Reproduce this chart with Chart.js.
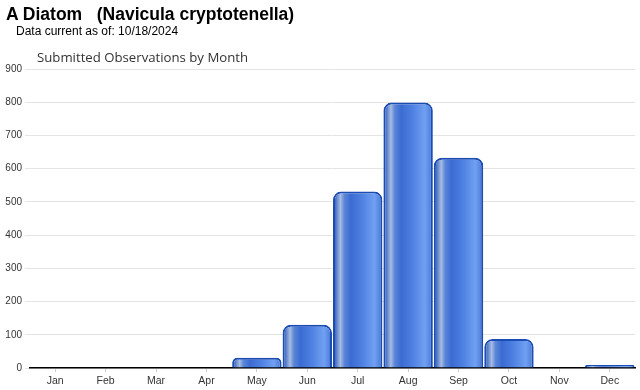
<!DOCTYPE html>
<html>
<head>
<meta charset="utf-8">
<script src="https://cdn.jsdelivr.net/npm/chart.js@4"></script>
<style>
  html,body{margin:0;padding:0;background:#fff;}
  #wrap{position:relative;width:640px;height:390px;overflow:hidden;}
  canvas{position:absolute;left:0;top:0;}
  .t1{position:absolute;left:6px;top:4px;font:bold 17.5px "Liberation Sans",Arial,sans-serif;color:#000;white-space:pre;}
  .t2{position:absolute;left:16px;top:24px;font:12px "Liberation Sans",Arial,sans-serif;color:#000;white-space:pre;}
  .t3{position:absolute;left:37px;top:48px;font:13.2px "Open Sans",sans-serif;color:#333;white-space:pre;}
</style>
</head>
<body>
<div id="wrap">
  <canvas id="c" width="640" height="390"></canvas>
  <div class="t1">A Diatom   (Navicula cryptotenella)</div>
  <div class="t2">Data current as of: 10/18/2024</div>
  <div class="t3">Submitted Observations by Month</div>
</div>
<script>
const months = ["Jan","Feb","Mar","Apr","May","Jun","Jul","Aug","Sep","Oct","Nov","Dec"];
const observations = [0,0,0,0,31,130,531,799,633,87,0,9];
const yTicks = [0,100,200,300,400,500,600,700,800,900];

function barGradient(ctx){
  const chart = ctx.chart;
  if (!chart.chartArea || ctx.type !== 'data') return '#3f6fd4';
  const xs = chart.scales.x;
  const cx = xs.getPixelForValue(ctx.dataIndex);
  const w = (xs.right - xs.left) / months.length * 0.98;
  const g = chart.ctx.createLinearGradient(cx - w/2, 0, cx + w/2, 0);
  g.addColorStop(0.00, '#1d4cb0');
  g.addColorStop(0.06, '#4f78c8');
  g.addColorStop(0.15, '#a8bce2');
  g.addColorStop(0.23, '#5a86d8');
  g.addColorStop(0.36, '#3b6bd2');
  g.addColorStop(0.60, '#4f82e2');
  g.addColorStop(0.84, '#71a0f2');
  g.addColorStop(0.94, '#5586e0');
  g.addColorStop(1.00, '#1d4cb0');
  return g;
}

new Chart(document.getElementById('c'), {
  type: 'bar',
  data: {
    labels: months,
    datasets: [{
      data: observations,
      backgroundColor: barGradient,
      borderColor: '#1a4cb4',
      borderWidth: ctx => (ctx.raw ? 2 : 0),
      borderRadius: {topLeft: 8, topRight: 8, bottomLeft: 0, bottomRight: 0},
      borderSkipped: 'bottom',
      categoryPercentage: 1.0,
      barPercentage: 0.98
    }]
  },
  options: {
    responsive: false,
    animation: false,
    devicePixelRatio: 1,
    layout: { padding: { top: 69, right: 5, left: 0, bottom: 0 } },
    plugins: { legend: { display: false }, tooltip: { enabled: false }, title: { display: false } },
    scales: {
      x: {
        grid: { display: true, offset: false, drawOnChartArea: false, drawTicks: true, tickLength: 4, color: '#d0d0d0' },
        border: { display: true, color: '#000', width: 1.5 },
        ticks: { color: '#333', font: { family: 'Liberation Sans', size: 10.5 }, padding: 3 },
        afterFit: s => { s.height = 22; }
      },
      y: {
        min: 0, max: 900,
        afterBuildTicks: s => { s.ticks = yTicks.map(v => ({ value: v })); },
        grid: { color: '#e4e4e4', tickLength: 5, drawTicks: true },
        border: { display: false },
        ticks: { color: '#333', font: { family: 'Liberation Sans', size: 10 }, padding: 3 },
        afterFit: s => { s.width = 30; }
      }
    }
  }
});
</script>
</body>
</html>
